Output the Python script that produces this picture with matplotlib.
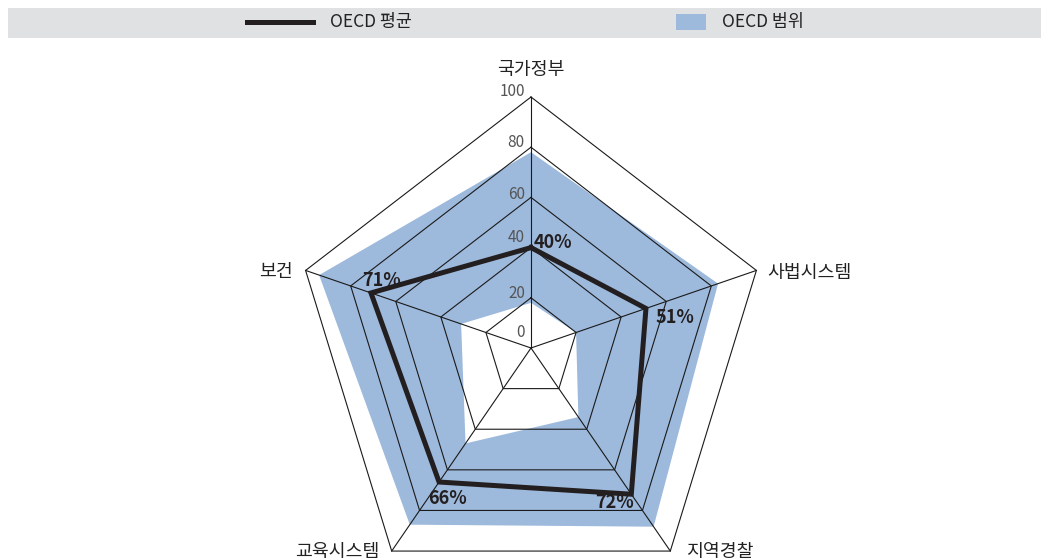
import matplotlib
matplotlib.use("Agg")
import matplotlib.pyplot as plt
from matplotlib.patches import Rectangle
from matplotlib.lines import Line2D
import numpy as np

plt.rcParams['font.family'] = ['Noto Sans CJK KR', 'DejaVu Sans']

categories = ["국가정부", "사법시스템", "지역경찰", "교육시스템", "보건"]
oecd_mean = [40, 51, 72, 66, 71]
oecd_min = [18, 20, 34, 47, 31]
oecd_max = [78, 83, 88, 87, 94]
levels = [20, 40, 60, 80, 100]
tick_values = [0, 20, 40, 60, 80, 100]

band_color = "#9db9dc"
line_color = "#231f20"

# clockwise from the top
angles = np.deg2rad(90 - 72 * np.arange(len(categories)))


def ring(vals):
    v = np.asarray(vals, dtype=float)
    x = v * np.cos(angles)
    y = v * np.sin(angles)
    return np.append(x, x[0]), np.append(y, y[0])


fig = plt.figure(figsize=(10.41, 5.59), dpi=100)
ax = fig.add_axes([0, 0, 1, 1])
ax.set_xlim(-531 / 2.37, (1041 - 531) / 2.37)
ax.set_ylim(-(559 - 348) / 2.51, 348 / 2.51)
ax.axis("off")

# range band
xo, yo = ring(oecd_max)
ax.fill(xo, yo, color=band_color, lw=0, zorder=1)
xi, yi = ring(oecd_min)
ax.fill(xi, yi, color="white", lw=0, zorder=1.5)

# grid pentagons and spokes
for lv in levels:
    gx, gy = ring([lv] * len(categories))
    ax.plot(gx, gy, color="#1a1a1a", lw=0.8, zorder=2)
for a in angles:
    ax.plot([0, 100 * np.cos(a)], [0, 100 * np.sin(a)], color="#1a1a1a", lw=0.8, zorder=2)

# average line
mx, my = ring(oecd_mean)
ax.plot(mx, my, color=line_color, lw=3.6, solid_joinstyle="miter", zorder=3)

# radial tick labels
tick_lift = [6, 1.8, 4, 1.3, 2, 2]
for t, lift in zip(tick_values, tick_lift):
    ax.text(-2.6, t + lift, str(t), ha="right", va="center", fontsize=11, color="#555555", zorder=4)

# value labels
offsets = [(9.4, 2.1), (4, -3.6), (-6.9, -3.3), (3.6, -6.7), (4.6, 4.9)]
has = ["center", "left", "center", "center", "center"]
for a, v, (dx, dy), h in zip(angles, oecd_mean, offsets, has):
    ax.text(v * np.cos(a) + dx, v * np.sin(a) + dy, f"{v}%", ha=h, va="center",
            fontsize=13, fontweight="bold", color=line_color, zorder=4)

# category labels
fs = 13.2
ax.text(0, 110.8, categories[0], ha="center", va="center", fontsize=fs, color="#222222")
ax.text(100 * np.cos(angles[1]) + 4.5, 100 * np.sin(angles[1]) - 1.1, categories[1],
        ha="left", va="center", fontsize=fs, color="#222222")
ax.text(100 * np.cos(angles[2]) + 6.8, 100 * np.sin(angles[2]) - 0.5, categories[2],
        ha="left", va="center", fontsize=fs, color="#222222")
ax.text(100 * np.cos(angles[3]) - 5.1, 100 * np.sin(angles[3]) - 0.5, categories[3],
        ha="right", va="center", fontsize=fs, color="#222222")
ax.text(100 * np.cos(angles[4]) - 5.5, 100 * np.sin(angles[4]) - 0.8, categories[4],
        ha="right", va="center", fontsize=fs, color="#222222")

# legend strip across the top
W, H = 1041, 559
fig.patches.append(Rectangle((8 / W, 1 - 38 / H), 1 - 8 / W, 30 / H, transform=fig.transFigure,
                             facecolor="#e0e1e3", edgecolor="none", zorder=0))
fig.lines.append(Line2D([247 / W, 313 / W], [1 - 22 / H, 1 - 22 / H], transform=fig.transFigure,
                        color=line_color, lw=3.6))
fig.text(330 / W, 1 - 22.5 / H, "OECD 평균", ha="left", va="center", fontsize=12.5, color="#222222")
fig.patches.append(Rectangle((676 / W, 1 - 30 / H), 30 / W, 16 / H, transform=fig.transFigure,
                             facecolor=band_color, edgecolor="none"))
fig.text(722 / W, 1 - 22.5 / H, "OECD 범위", ha="left", va="center", fontsize=12.5, color="#222222")

fig.savefig("out.png", dpi=100)
